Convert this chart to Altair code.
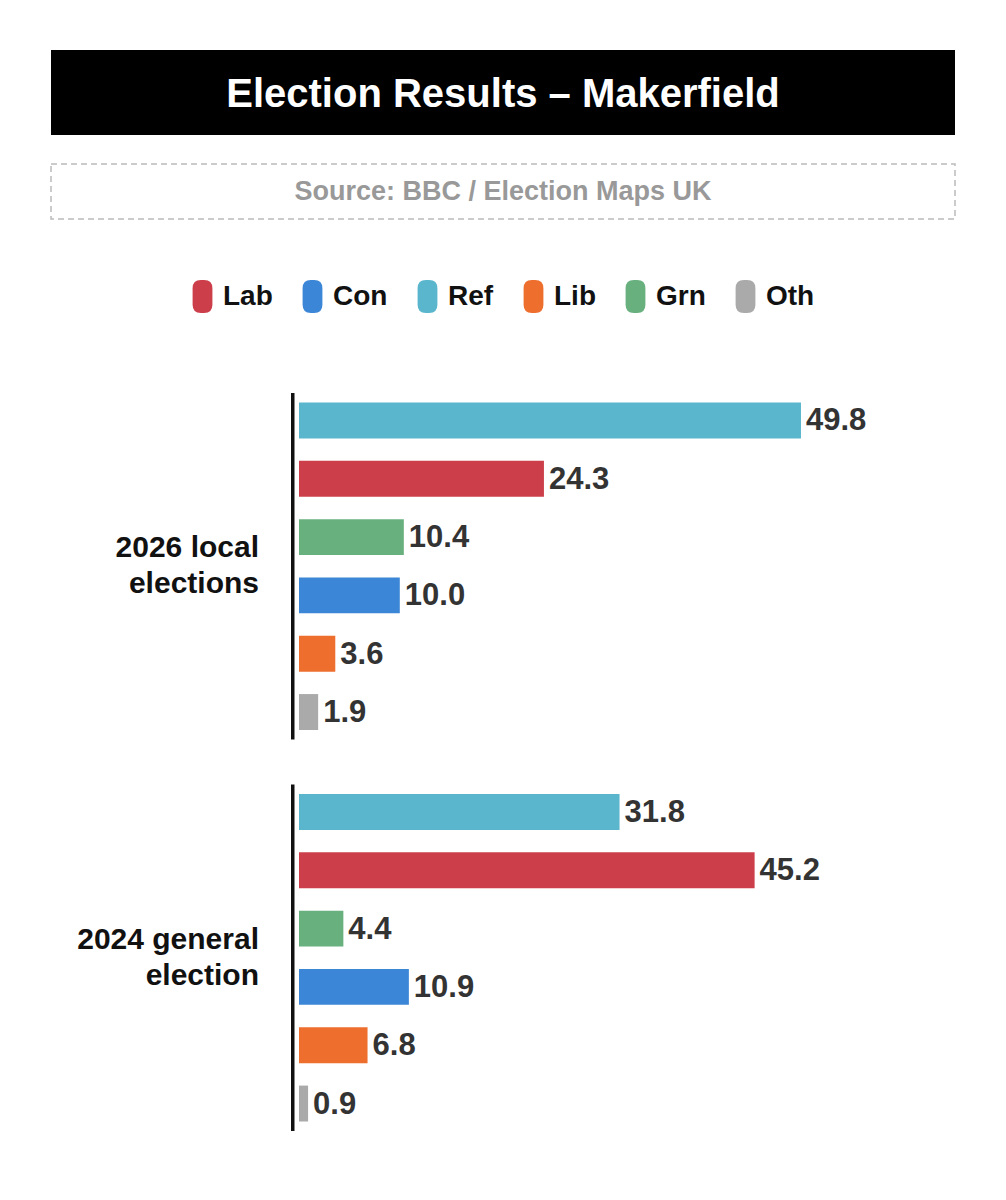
import altair as alt
import pandas as pd

TITLE = "Election Results – Makerfield"
SOURCE = "Source: BBC / Election Maps UK"

PARTIES = ["Ref", "Lab", "Grn", "Con", "Lib", "Oth"]          # bar order within each group
LEGEND_ORDER = ["Lab", "Con", "Ref", "Lib", "Grn", "Oth"]
COLORS = ["#cc3f4a", "#3b86d6", "#5ab6cd", "#ee6e2e", "#68b07e", "#aaaaaa"]

GROUPS = ["2026 local\nelections", "2024 general\nelection"]
VALUES_2026 = [49.8, 24.3, 10.4, 10.0, 3.6, 1.9]
VALUES_2024 = [31.8, 45.2, 4.4, 10.9, 6.8, 0.9]

FONT = "Liberation Sans"

rows = []
for g, vals in zip(GROUPS, [VALUES_2026, VALUES_2024]):
    for p, v in zip(PARTIES, vals):
        rows.append({"group": g, "party": p, "value": v})
bars_df = pd.DataFrame(rows)
groups_df = pd.DataFrame({"group": GROUPS})

x_scale = alt.Scale(domain=[0, 50], range=[291, 795])
y_scale = alt.Scale(domain=GROUPS, range=[385, 1123], paddingInner=0.115, paddingOuter=0)
yoff_scale = alt.Scale(domain=PARTIES, paddingInner=0.384, paddingOuter=0.163)

PILL = ("M-0.1,-1 L0.1,-1 Q0.6,-1 0.6,-0.5 L0.6,0.5 Q0.6,1 0.1,1 "
        "L-0.1,1 Q-0.6,1 -0.6,0.5 L-0.6,-0.5 Q-0.6,-1 -0.1,-1 Z")

bars = alt.Chart(bars_df).mark_bar(cornerRadius=0).encode(
    x=alt.X("value:Q", scale=x_scale, axis=None),
    y=alt.Y("group:N", scale=y_scale, axis=None),
    yOffset=alt.YOffset("party:N", scale=yoff_scale),
    color=alt.Color(
        "party:N",
        scale=alt.Scale(domain=LEGEND_ORDER, range=COLORS),
        legend=alt.Legend(
            title=None, orient="none", direction="horizontal",
            legendX=178, legendY=272, padding=0,
            symbolType=PILL, symbolSize=1089, symbolStrokeWidth=0, symbolOpacity=1,
            labelFont=FONT, labelFontSize=28, labelFontWeight="bold", labelColor="#111111",
            labelOffset=4, columnPadding=23, labelLimit=200,
        ),
    ),
)

values = alt.Chart(bars_df).mark_text(
    align="left", baseline="middle", dx=5, dy=1, font=FONT, fontSize=31,
    fontWeight="bold", color="#333333",
).encode(
    x=alt.X("value:Q", scale=x_scale, axis=None),
    y=alt.Y("group:N", scale=y_scale, axis=None),
    yOffset=alt.YOffset("party:N", scale=yoff_scale),
    text=alt.Text("value:Q", format=".1f"),
)

axis_line = alt.Chart(groups_df).mark_rect(color="#111111").encode(
    y=alt.Y("group:N", scale=y_scale, axis=None),
    x=alt.value(283), x2=alt.value(286.5),
)

group_labels = alt.Chart(groups_df).mark_text(
    align="right", baseline="middle", lineBreak="\n", lineHeight=36, dy=-18,
    font=FONT, fontSize=30, fontWeight="bold", color="#111111",
).encode(
    y=alt.Y("group:N", scale=y_scale, axis=None),
    x=alt.value(251),
    text="group:N",
)

title_df = pd.DataFrame({"t": [TITLE]})
source_df = pd.DataFrame({"t": [SOURCE]})

title_box = alt.Chart(title_df).mark_rect(color="#000000").encode(
    x=alt.value(43), x2=alt.value(947), y=alt.value(42), y2=alt.value(127),
)
title_text = alt.Chart(title_df).mark_text(
    align="center", baseline="alphabetic", font=FONT, fontSize=40,
    fontWeight="bold", color="#ffffff",
).encode(x=alt.value(495), y=alt.value(99), text="t:N")

source_box = alt.Chart(source_df).mark_rect(
    fill="#ffffff", fillOpacity=0, stroke="#bbbbbb", strokeWidth=1.5, strokeDash=[6, 4],
).encode(x=alt.value(43), x2=alt.value(947), y=alt.value(156), y2=alt.value(211))
source_text = alt.Chart(source_df).mark_text(
    align="center", baseline="alphabetic", font=FONT, fontSize=27,
    fontWeight="bold", color="#999999",
).encode(x=alt.value(495), y=alt.value(192), text="t:N")

chart = alt.layer(
    title_box, title_text, source_box, source_text,
    axis_line, bars, values, group_labels,
).properties(
    width=990, height=1184, padding=0,
    autosize=alt.AutoSizeParams(type="none"),
    background="#ffffff",
).configure_view(stroke=None)

chart.save("out.html", embed_options={"renderer": "svg", "actions": False})
